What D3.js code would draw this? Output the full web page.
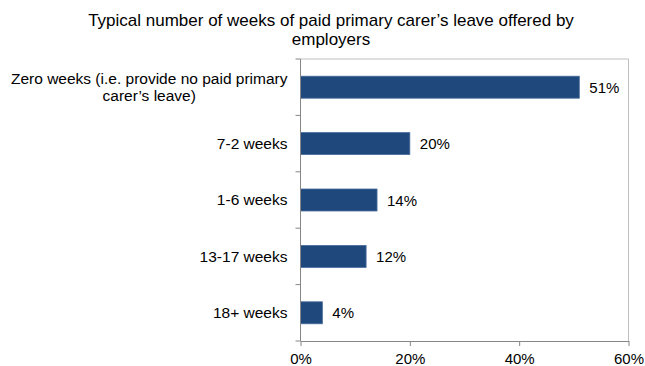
<!DOCTYPE html>
<html>
<head>
<meta charset="utf-8">
<script src="https://cdn.jsdelivr.net/npm/d3@7"></script>
<style>
  html, body { margin: 0; padding: 0; background: #fff; }
  svg text { font-family: "Liberation Sans", Arial, sans-serif; fill: #000; }
</style>
</head>
<body>
<svg id="chart" width="645" height="366"></svg>
<script>
// Survey results: share of employers by weeks of paid primary carer's leave
const titleLines = ["Typical number of weeks of paid primary carer\u2019s leave offered by", "employers"];
const categories = [
  ["Zero weeks (i.e. provide no paid primary", "carer\u2019s leave)"],
  ["7-2 weeks"],
  ["1-6 weeks"],
  ["13-17 weeks"],
  ["18+ weeks"]
];
const values = [51, 20, 14, 12, 4];
const xTicks = [0, 20, 40, 60];

const svg = d3.select("#chart");
const margin = { left: 300.5, right: 16.5, top: 59, bottom: 25 };
const W = 645, H = 366;
const x = d3.scaleLinear().domain([0, 60]).range([margin.left, W - margin.right]);
const y = d3.scaleBand().domain(d3.range(categories.length))
  .range([margin.top, H - margin.bottom]).paddingInner(0.61).paddingOuter(0.305);

// Title
svg.append("g").selectAll("text").data(titleLines).join("text")
  .attr("x", 331).attr("y", (d, i) => 25.5 + i * 19.5)
  .attr("text-anchor", "middle").style("font-size", "17px").text(d => d);

// Plot frame (top and right edges)
svg.append("path")
  .attr("d", `M${margin.left},${margin.top}H${W - margin.right}V${H - margin.bottom}`)
  .attr("fill", "none").attr("stroke", "#bfbfbf").attr("stroke-width", 1);

// Bars
svg.append("g").selectAll("rect").data(values).join("rect")
  .attr("x", x(0)).attr("y", (d, i) => y(i))
  .attr("width", d => x(d) - x(0)).attr("height", y.bandwidth())
  .attr("fill", "#1f497d").attr("stroke", "#4a6c9b").attr("stroke-width", 0.8);

// Value labels
svg.append("g").selectAll("text").data(values).join("text")
  .attr("x", d => x(d) + 10).attr("y", (d, i) => y(i) + y.bandwidth() / 2 + 5.5)
  .style("font-size", "15px").text(d => d + "%");

// X axis
const xAxis = svg.append("g").attr("transform", `translate(0,${H - margin.bottom})`)
  .call(d3.axisBottom(x).tickValues(xTicks).tickFormat(d => d + "%").tickSize(5).tickSizeOuter(0));
xAxis.select(".domain").attr("stroke", "#868686");
xAxis.selectAll(".tick line").attr("stroke", "#868686");
xAxis.selectAll(".tick text").attr("y", 23).attr("dy", 0).style("font-size", "15px")
  .style("font-family", "'Liberation Sans', Arial, sans-serif").attr("fill", "#000");

// Y axis: line with ticks between categories
const yBoundaries = d3.range(categories.length + 1).map(i => margin.top + i * y.step());
svg.append("line").attr("x1", margin.left).attr("x2", margin.left)
  .attr("y1", margin.top).attr("y2", H - margin.bottom).attr("stroke", "#868686");
svg.append("g").selectAll("line").data(yBoundaries).join("line")
  .attr("x1", margin.left - 5).attr("x2", margin.left)
  .attr("y1", d => d).attr("y2", d => d).attr("stroke", "#868686");

// Category labels: block right-aligned to the axis, lines centred within the block
const labelRight = 287.5, lineH = 16.3;
const labels = svg.append("g");
categories.forEach((lines, i) => {
  const cy = y(i) + y.bandwidth() / 2;
  const g = labels.append("g");
  const texts = g.selectAll("text").data(lines).join("text")
    .style("font-size", "15.5px").attr("text-anchor", "middle")
    .attr("y", (d, j) => cy + 5.3 + (j - (lines.length - 1) / 2) * lineH)
    .text(d => d);
  const maxW = d3.max(texts.nodes(), n => n.getComputedTextLength());
  texts.attr("x", labelRight - maxW / 2);
});
</script>
</body>
</html>
